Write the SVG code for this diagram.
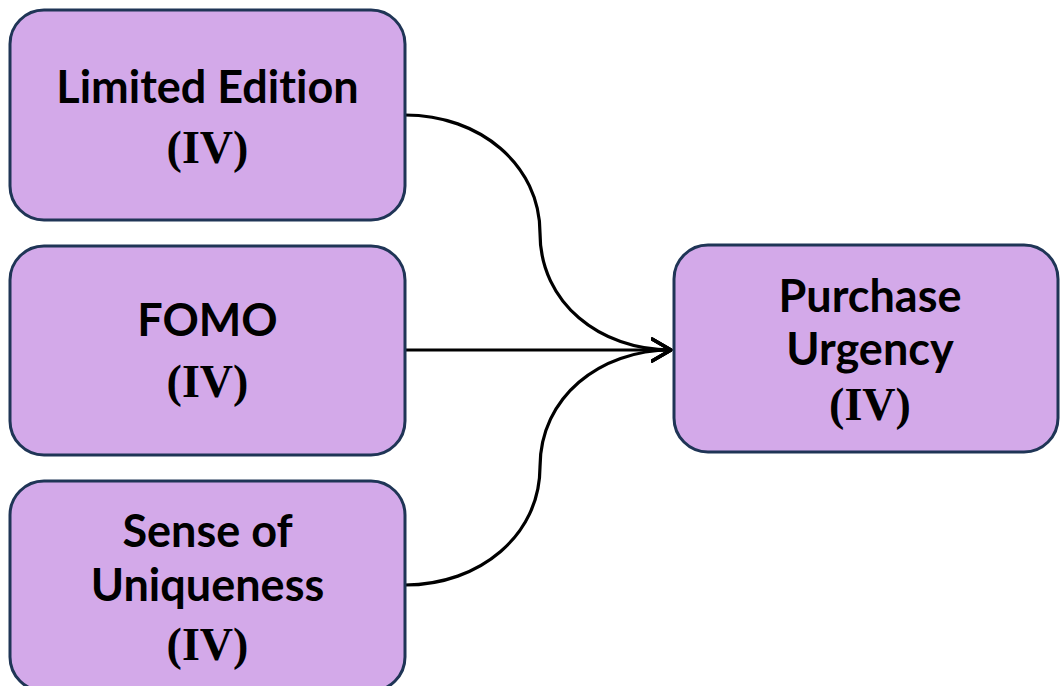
<svg xmlns="http://www.w3.org/2000/svg" width="1060" height="686" viewBox="0 0 1060 686">
<style>
.box{fill:#D3A9E9;stroke:#1F3556;stroke-width:3}
.t{font-family:Lato,"Open Sans","Liberation Sans",sans-serif;font-weight:bold;font-size:45px;fill:#000;text-anchor:middle;font-variant-ligatures:none}
.s{font-family:"Liberation Serif","Times New Roman",serif;font-weight:bold;font-size:46px;fill:#000;text-anchor:middle}
.c{fill:none;stroke:#000;stroke-width:3.2}
</style>
<defs>
<marker id="arr" markerUnits="userSpaceOnUse" markerWidth="24" markerHeight="28" refX="20" refY="12" orient="auto" viewBox="0 0 24 24">
<path d="M1,1 L20,12 L1,23" fill="none" stroke="#000" stroke-width="3.2" stroke-linecap="round" stroke-linejoin="round"/>
</marker>
</defs>
<rect width="1060" height="686" fill="#fff"/>
<g id="connectors">
<path class="c" d="M405,115 C480,115 540,165 540,233 C540,303 600,350 671,350" marker-end="url(#arr)"/>
<path class="c" d="M405,350 L671,350" marker-end="url(#arr)"/>
<path class="c" d="M405,585 C480,585 540,535 540,467 C540,397 600,350 671,350" marker-end="url(#arr)"/>
</g>
<g id="limited-edition">
<rect class="box" x="10" y="10" width="395" height="210" rx="34"/>
<text class="t" x="207.5" y="103">Limited Edition</text>
<text class="s" x="207.5" y="163">(IV)</text>
</g>
<g id="fomo">
<rect class="box" x="10" y="246" width="395" height="209" rx="34"/>
<text class="t" x="207.5" y="336">FOMO</text>
<text class="s" x="207.5" y="397">(IV)</text>
</g>
<g id="sense-of-uniqueness">
<rect class="box" x="10" y="481" width="395" height="210" rx="34"/>
<text class="t" x="207.5" y="547">Sense of</text>
<text class="t" x="207.5" y="601">Uniqueness</text>
<text class="s" x="207.5" y="660">(IV)</text>
</g>
<g id="purchase-urgency">
<rect class="box" x="674" y="245" width="384" height="207" rx="34"/>
<text class="t" x="870" y="312">Purchase</text>
<text class="t" x="870" y="365">Urgency</text>
<text class="s" x="870" y="420">(IV)</text>
</g>
</svg>
